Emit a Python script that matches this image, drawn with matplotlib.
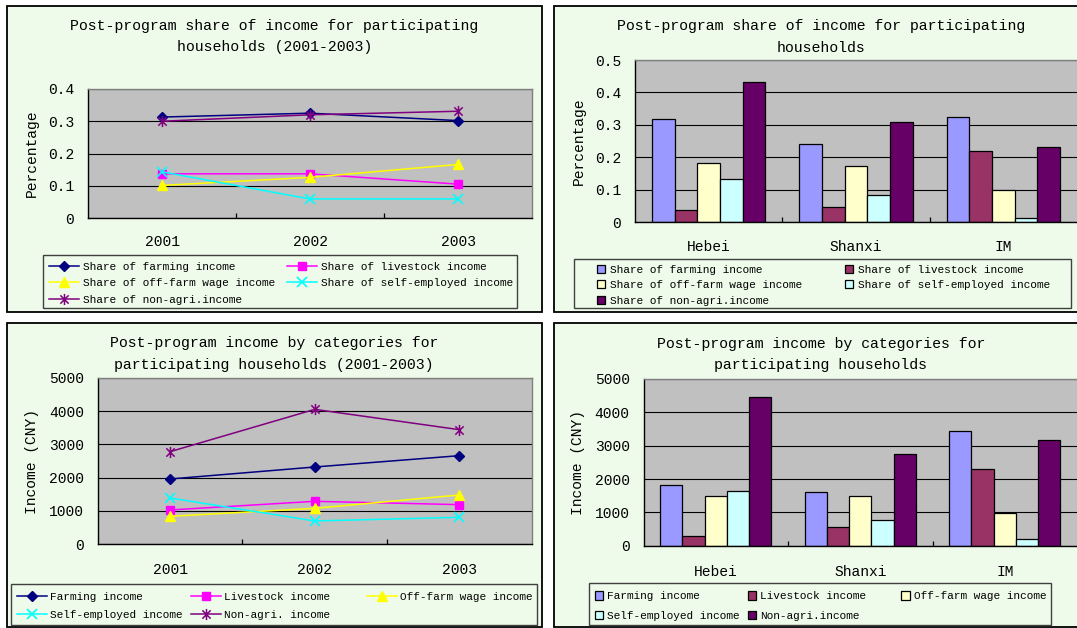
import numpy as np
import matplotlib
matplotlib.use("Agg")
import matplotlib.pyplot as plt
from matplotlib.patches import Rectangle
from matplotlib.path import Path

plt.rcParams['font.family'] = ['Liberation Mono', 'DejaVu Sans Mono']

# ---------------- data ----------------
years = ['2001', '2002', '2003']
regions = ['Hebei', 'Shanxi', 'IM']

share_farming = [0.313, 0.325, 0.302]
share_livestock = [0.137, 0.137, 0.105]
share_offfarm = [0.101, 0.126, 0.166]
share_selfemp = [0.143, 0.059, 0.059]
share_nonagri = [0.300, 0.320, 0.331]

inc_farming = [1960, 2320, 2660]
inc_livestock = [1030, 1290, 1190]
inc_offfarm = [840, 1080, 1480]
inc_selfemp = [1390, 700, 810]
inc_nonagri = [2780, 4050, 3440]

reg_share_farming = [0.318, 0.241, 0.324]
reg_share_livestock = [0.037, 0.045, 0.219]
reg_share_offfarm = [0.182, 0.174, 0.099]
reg_share_selfemp = [0.132, 0.084, 0.013]
reg_share_nonagri = [0.433, 0.310, 0.230]

reg_inc_farming = [1815, 1620, 3450]
reg_inc_livestock = [280, 550, 2300]
reg_inc_offfarm = [1485, 1490, 975]
reg_inc_selfemp = [1645, 775, 210]
reg_inc_nonagri = [4467, 2745, 3180]

share_ticks = [0, 0.1, 0.2, 0.3, 0.4]
share_ticks_bar = [0, 0.1, 0.2, 0.3, 0.4, 0.5]
income_ticks = [0, 1000, 2000, 3000, 4000, 5000]

# ---------------- styles ----------------
W, H = 1077, 628
PANEL = '#EEFBEA'
PLOT_BG = '#C0C0C0'
FS_TITLE = 10.7
FS_TICK = 10.5
FS_LEG = 8

star = Path([(0, -1), (0, 1), (-0.75, -0.75), (0.75, 0.75), (-0.75, 0.75), (0.75, -0.75)],
            [Path.MOVETO, Path.LINETO, Path.MOVETO, Path.LINETO, Path.MOVETO, Path.LINETO])

line_styles = [
    dict(color='#000080', marker='D', ms=5.5),
    dict(color='#FF00FF', marker='s', ms=5.5),
    dict(color='#FFFF00', marker='^', ms=6.5),
    dict(color='#00FFFF', marker='x', ms=7, mew=1.2),
    dict(color='#800080', marker=star, ms=8, mew=1.1),
]
bar_colors = ['#9999FF', '#993366', '#FFFFCC', '#CCFFFF', '#660066']

fig = plt.figure(figsize=(W / 100, H / 100), dpi=100)
fig.patch.set_facecolor('white')


def fx(x):
    return x / W


def fy(y):
    return 1 - y / H


def box(l, t, r, b, z, **kw):
    fig.add_artist(Rectangle((fx(l), fy(b)), (r - l) / W, (b - t) / H,
                             transform=fig.transFigure, zorder=z, **kw))


def axes_px(l, t, r, b):
    return fig.add_axes([fx(l), fy(b), (r - l) / W, (b - t) / H])


def style_axes(ax, ylim, yticks, cats, xpad, right_visible=True):
    ax.set_facecolor(PLOT_BG)
    ax.set_xlim(-0.5, len(cats) - 0.5)
    ax.set_ylim(*ylim)
    ax.set_yticks(yticks, [f"{v:g}" for v in yticks])
    ax.set_xticks(np.arange(len(cats)), cats)
    ax.set_xticks(np.arange(len(cats) - 1) + 0.5, minor=True)
    ax.yaxis.grid(True, color='black', lw=0.8)
    ax.set_axisbelow(True)
    ax.tick_params(axis='y', length=0, pad=10, labelsize=FS_TICK)
    ax.tick_params(axis='x', which='major', length=0, pad=xpad, labelsize=FS_TICK)
    ax.tick_params(axis='x', which='minor', direction='in', length=3.5, width=0.9, color='black')
    for lab in ax.get_xticklabels():
        lab.set_va('center')
    for s in ['left', 'bottom']:
        ax.spines[s].set_color('black')
        ax.spines[s].set_linewidth(1.0)
    for s in ['top', 'right']:
        ax.spines[s].set_color('#808080')
        ax.spines[s].set_linewidth(1.0)
    ax.spines['right'].set_visible(right_visible)


def col_legend(handles, labels, x_px, top_px, hl, hh, htp, ls):
    fig.legend(handles, labels, loc='upper left',
               bbox_to_anchor=(fx(x_px), fy(top_px)), bbox_transform=fig.transFigure,
               frameon=False, borderpad=0, borderaxespad=0, fontsize=FS_LEG,
               handlelength=hl, handleheight=hh, handletextpad=htp, labelspacing=ls)


# ---------------- panels ----------------
for (l, t, r, b) in [(7, 5.5, 542, 312), (554, 5.5, 1090, 312),
                     (7, 322.5, 542, 627), (554, 322.5, 1090, 627)]:
    box(l, t, r, b, -2, facecolor=PANEL, edgecolor='black', lw=1.3)

# legend frames
for (l, t, r, b) in [(43, 255, 516.5, 308), (574.3, 259, 1071, 308),
                     (11, 583.7, 537, 624.7), (589.3, 583, 1050.6, 624.7)]:
    box(l, t, r, b, -1, facecolor=PANEL, edgecolor='#404040', lw=1.0)

x3 = np.arange(3)

# ---------------- top-left: share lines ----------------
ax1 = axes_px(88, 89, 532, 218)
style_axes(ax1, (0, 0.4), share_ticks, years, 17.1)
l1 = []
for vals, st in zip([share_farming, share_livestock, share_offfarm, share_selfemp, share_nonagri],
                    line_styles):
    ln, = ax1.plot(x3, vals, lw=1.1, mec=st['color'], mfc=st['color'], **st)
    l1.append(ln)
lab1 = ['Share of farming income', 'Share of livestock income', 'Share of off-farm wage income',
        'Share of self-employed income', 'Share of non-agri.income']
col_legend([l1[0], l1[2], l1[4]], [lab1[0], lab1[2], lab1[4]], 49, 261.6, 2.7, 0.7, 0.39, 0.6)
col_legend([l1[1], l1[3]], [lab1[1], lab1[3]], 286.5, 261.6, 2.7, 0.7, 0.39, 0.6)
fig.text(fx(274.5), fy(25.7), 'Post-program share of income for participating',
         ha='center', va='center', fontsize=FS_TITLE)
fig.text(fx(274.5), fy(47.3), 'households (2001-2003)', ha='center', va='center', fontsize=FS_TITLE)
fig.text(fx(32.3), fy(153.5), 'Percentage', rotation=90, ha='center', va='center', fontsize=FS_TICK)

# ---------------- top-right: share bars ----------------
w = 1 / 6.5
ax2 = axes_px(635, 60, 1077, 222)
style_axes(ax2, (0, 0.5), share_ticks_bar, regions, 18.2, right_visible=False)
b2 = []
for i, (vals, c) in enumerate(zip([reg_share_farming, reg_share_livestock, reg_share_offfarm,
                                   reg_share_selfemp, reg_share_nonagri], bar_colors)):
    bc = ax2.bar(x3 + (i - 2) * w, vals, width=w, color=c, edgecolor='black', lw=0.9)
    b2.append(bc)
col_legend([b2[0], b2[2], b2[4]], [lab1[0], lab1[2], lab1[4]], 596.5, 264.6, 0.77, 0.77, 0.4, 0.49)
col_legend([b2[1], b2[3]], [lab1[1], lab1[3]], 844.8, 264.6, 0.77, 0.77, 0.4, 0.49)
fig.text(fx(820.8), fy(26), 'Post-program share of income for participating',
         ha='center', va='center', fontsize=FS_TITLE)
fig.text(fx(820.8), fy(47.7), 'households', ha='center', va='center', fontsize=FS_TITLE)
fig.text(fx(579.3), fy(141), 'Percentage', rotation=90, ha='center', va='center', fontsize=FS_TICK)

# ---------------- bottom-left: income lines ----------------
ax3 = axes_px(97.7, 377.7, 531.7, 544.3)
style_axes(ax3, (0, 5000), income_ticks, years, 18.7)
l3 = []
for vals, st in zip([inc_farming, inc_livestock, inc_offfarm, inc_selfemp, inc_nonagri], line_styles):
    ln, = ax3.plot(x3, vals, lw=1.1, mec=st['color'], mfc=st['color'], **st)
    l3.append(ln)
lab3 = ['Farming income', 'Livestock income', 'Off-farm wage income',
        'Self-employed income', 'Non-agri. income']
col_legend([l3[0], l3[3]], [lab3[0], lab3[3]], 16.7, 591.6, 2.7, 0.7, 0.3, 0.77)
col_legend([l3[1], l3[4]], [lab3[1], lab3[4]], 191, 591.6, 2.7, 0.7, 0.3, 0.77)
col_legend([l3[2]], [lab3[2]], 366.7, 591.6, 2.7, 0.7, 0.3, 0.77)
fig.text(fx(273.7), fy(342.7), 'Post-program income by categories for',
         ha='center', va='center', fontsize=FS_TITLE)
fig.text(fx(273.7), fy(364.5), 'participating households (2001-2003)',
         ha='center', va='center', fontsize=FS_TITLE)
fig.text(fx(32), fy(461), 'Income (CNY)', rotation=90, ha='center', va='center', fontsize=FS_TICK)

# ---------------- bottom-right: income bars ----------------
ax4 = axes_px(643.5, 379, 1077, 545.7)
style_axes(ax4, (0, 5000), income_ticks, regions, 18.9, right_visible=False)
b4 = []
for i, (vals, c) in enumerate(zip([reg_inc_farming, reg_inc_livestock, reg_inc_offfarm,
                                   reg_inc_selfemp, reg_inc_nonagri], bar_colors)):
    bc = ax4.bar(x3 + (i - 2) * w, vals, width=w, color=c, edgecolor='black', lw=0.9)
    b4.append(bc)
lab4 = ['Farming income', 'Livestock income', 'Off-farm wage income',
        'Self-employed income', 'Non-agri.income']
col_legend([b4[0], b4[3]], [lab4[0], lab4[3]], 594.9, 591.3, 0.77, 0.77, 0.33, 0.83)
col_legend([b4[1], b4[4]], [lab4[1], lab4[4]], 747.9, 591.3, 0.77, 0.77, 0.33, 0.83)
col_legend([b4[2]], [lab4[2]], 901.3, 591.3, 0.77, 0.77, 0.33, 0.83)
fig.text(fx(820.7), fy(344), 'Post-program income by categories for',
         ha='center', va='center', fontsize=FS_TITLE)
fig.text(fx(820.7), fy(365), 'participating households', ha='center', va='center', fontsize=FS_TITLE)
fig.text(fx(578.3), fy(462.5), 'Income (CNY)', rotation=90, ha='center', va='center', fontsize=FS_TICK)

fig.savefig('out.png', dpi=100, facecolor='white')
